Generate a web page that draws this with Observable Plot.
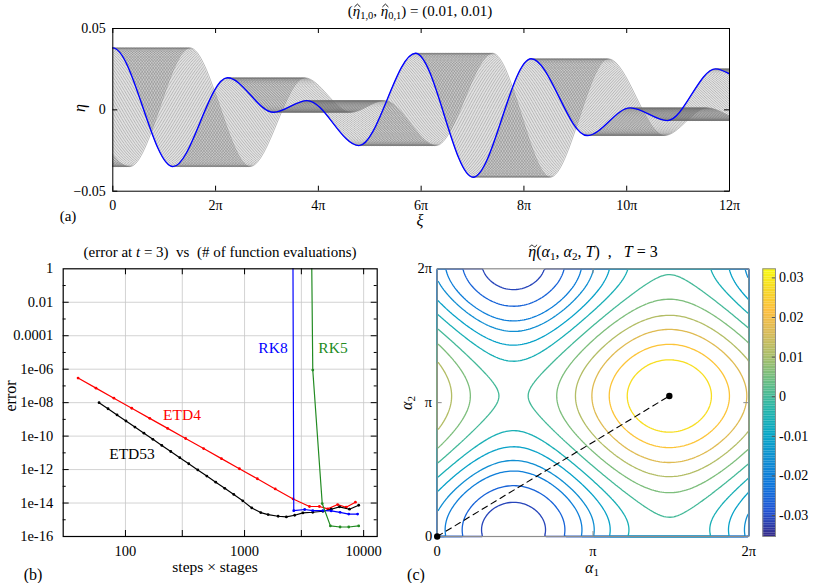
<!DOCTYPE html>
<html>
<head>
<meta charset="utf-8">
<script src="https://cdn.jsdelivr.net/npm/d3@7"></script>
<script src="https://cdn.jsdelivr.net/npm/@observablehq/plot@0.6"></script>
<style>
  body { margin: 0; background: #fff; }
  #root { position: relative; width: 830px; height: 583px; background: #fff; font-family: 'Liberation Serif', 'Times New Roman', serif; color: #000; overflow: hidden; }
  #root svg text { font-family: 'Liberation Serif', 'Times New Roman', serif !important; }
  .panel { position: absolute; }
  .lbl { position: absolute; transform: translate(-50%, -50%); white-space: nowrap; line-height: 1; }
  .rot { transform: translate(-50%, -50%) rotate(-90deg); }
  .sb { font-size: 0.7em; vertical-align: -0.3em; line-height: 0; }
  .acc { position: relative; display: inline-block; }
  .mk { position: absolute; left: 50%; top: 0.02em; transform: translateX(-40%); overflow: visible; }
</style>
</head>
<body>
<div id="root">
  <div id="pa" class="panel" style="left:0;top:0"></div>
  <div id="pb" class="panel" style="left:0;top:230px"></div>
  <div id="pc" class="panel" style="left:415px;top:230px"></div>
  <div id="pcb" class="panel" style="left:755px;top:230px"></div>

  <div class="lbl" style="left:420px;top:11px;font-size:15px">(<span class="acc"><i>η</i><svg class="mk" width="7" height="4"><path d="M0.5,3.5L3.5,0.6L6.5,3.5" fill="none" stroke="#000" stroke-width="0.9"/></svg></span><span class="sb">1,0</span>, <span class="acc"><i>η</i><svg class="mk" width="7" height="4"><path d="M0.5,3.5L3.5,0.6L6.5,3.5" fill="none" stroke="#000" stroke-width="0.9"/></svg></span><span class="sb">0,1</span>) = (0.01, 0.01)</div>
  <div class="lbl rot" style="left:80px;top:108px;font-size:16px"><i>η</i></div>
  <div class="lbl" style="left:420px;top:221px;font-size:16px"><i>ξ</i></div>
  <div class="lbl" style="left:68px;top:216px;font-size:15px">(a)</div>

  <div class="lbl" style="left:220px;top:252px;font-size:15px">(error at <i>t</i> = 3)&nbsp; vs &nbsp;(# of function evaluations)</div>
  <div class="lbl" style="left:273px;top:348px;font-size:15.5px;color:#0000ff">RK8</div>
  <div class="lbl" style="left:333px;top:348px;font-size:15.5px;color:#228b22">RK5</div>
  <div class="lbl" style="left:182px;top:415px;font-size:15.5px;color:#ff0000">ETD4</div>
  <div class="lbl" style="left:132px;top:454px;font-size:15.5px;color:#000">ETD53</div>
  <div class="lbl rot" style="left:11px;top:396px;font-size:16px">error</div>
  <div class="lbl" style="left:215px;top:567px;font-size:15.5px">steps × stages</div>
  <div class="lbl" style="left:33px;top:575px;font-size:16px">(b)</div>

  <div class="lbl" style="left:593px;top:252px;font-size:16px"><span class="acc"><i>η</i><svg class="mk" width="8" height="4"><path d="M0.5,3.2C1.8,0.6 3.2,0.8 4.2,2 S6.6,3.4 7.6,0.8" fill="none" stroke="#000" stroke-width="0.9"/></svg></span>(<i>α</i><span class="sb">1</span>, <i>α</i><span class="sb">2</span>, <i>T</i>) &nbsp;, &nbsp; <i>T</i> = 3</div>
  <div class="lbl" style="left:592px;top:568px;font-size:16px"><i>α</i><span class="sb">1</span></div>
  <div class="lbl rot" style="left:407px;top:403px;font-size:16px"><i>α</i><span class="sb">2</span></div>
  <div class="lbl" style="left:416px;top:575px;font-size:16px">(c)</div>
</div>
<script>
const PI = Math.PI;
const SERIF = "'Liberation Serif', 'Times New Roman', serif";

// ---------- Panel (a): wave profile extrema (xi in units of pi) ----------
const blueXiPi = [-2.23, -1.17, 0, 1.17, 2.23, 3.13, 3.78, 4.79, 5.89, 7.01, 8.14, 9.23, 10.07, 10.79, 11.73, 12.0];
const blueEta  = [0.0197, -0.0349, 0.0381, -0.0349, 0.0197, -0.0015, 0.0057, -0.0220, 0.0348, -0.0414, 0.0314, -0.0158, 0.0012, -0.0066, 0.0252, 0.0221];
const snapshotCount = 50;     // number of gray snapshots
const maxShiftPi = 1.5;       // total drift of the snapshots (units of pi)
const xTicksAPi = [0, 2, 4, 6, 8, 10, 12];
const xTickLabelsA = ["0", "2π", "4π", "6π", "8π", "10π", "12π"];
const yTicksA = [-0.05, 0, 0.05];
const yTickLabelsA = ["−0.05", "0", "0.05"];

// ---------- Panel (b): error vs steps x stages ----------
const etd4Steps = [40, 56.6, 80, 113, 160, 226, 320, 453, 640, 905, 1280, 1810, 2560, 3510, 4250, 5000, 6050, 7130, 8530];
const etd4Err   = [2.95e-7, 7.38e-8, 1.85e-8, 4.63e-9, 1.15e-9, 2.9e-10, 7.2e-11, 1.8e-11, 4.5e-12, 1.12e-12, 2.82e-13, 7.0e-14, 1.76e-14, 6.2e-15, 6.2e-15, 4.5e-15, 8.1e-15, 5.6e-15, 1.12e-14];
const etd53Steps = [60, 71.4, 85, 101, 120, 143, 170, 202, 240, 286, 340, 405, 482, 573, 682, 812, 966, 1150, 1368, 1577, 1915, 2245, 2635, 3090, 3740, 4550, 5340, 6270, 7600, 9090];
const etd53Err   = [1e-8, 4.31e-9, 1.85e-9, 8.0e-10, 3.47e-10, 1.49e-10, 6.43e-11, 2.78e-11, 1.2e-11, 5.15e-12, 2.23e-12, 9.5e-13, 4.08e-13, 1.77e-13, 7.55e-14, 3.27e-14, 1.35e-14, 5.1e-15, 2.7e-15, 2.04e-15, 1.62e-15, 1.48e-15, 1.86e-15, 2.57e-15, 2.82e-15, 3.24e-15, 4.27e-15, 5.9e-15, 4.27e-15, 7.4e-15];
const rk8Steps = [2530, 2590, 3200, 3740, 4550, 5340, 6340, 7500, 8900];
const rk8Err   = [1e8, 3.5e-15, 4.1e-15, 3.55e-15, 3.55e-15, 3.4e-15, 2.8e-15, 2.2e-15, 2.2e-15];
const rk5Steps = [3600, 3740, 4490, 5260, 6340, 7500, 9090];
const rk5Err   = [1e6, 8.9e-7, 9.3e-15, 4.3e-16, 3.7e-16, 3.7e-16, 4.3e-16];
const xTicksB = [30, 100, 300, 1000, 3000, 10000];
const xTickLabelsB = ["30", "100", "300", "1000", "3000", "10000"];
const yTicksB = [1, 1e-2, 1e-4, 1e-6, 1e-8, 1e-10, 1e-12, 1e-14, 1e-16];
const yTickLabelsB = ["1", "0.01", "0.0001", "1e-06", "1e-08", "1e-10", "1e-12", "1e-14", "1e-16"];
const yMinorB = [1e-1, 1e-3, 1e-5, 1e-7, 1e-9, 1e-11, 1e-13, 1e-15];

// ---------- Panel (c): Fourier modes of the surface ----------
const modeM = [1, 0, 2, 0];
const modeN = [0, 1, 0, 2];
const modeAmp = [0.01695, 0.01695, -0.0004, -0.0004];
const modePhasePi = [1.49, 1.05, 2.98, 2.10];
const contourLevels = [-0.0310, -0.0258, -0.0202, -0.0160, -0.0108, -0.0057, 0.0000, 0.0057, 0.0115, 0.0171, 0.0228, 0.0278];
const pathPointsPi = [[0, 0], [1.49, 1.05]];
const cTicksPi = [0, 1, 2];
const cTickLabels = ["0", "π", "2π"];
const colorDomain = [-0.0353, 0.0323];
const parulaPos = [0, 0.0952, 0.1905, 0.2857, 0.381, 0.476, 0.571, 0.667, 0.762, 0.841, 0.921, 1];
const parulaColors = ["#352a87", "#2053d4", "#0d75dc", "#108ed2", "#06a7c6", "#25b5a9", "#65be86", "#a5be6b", "#d9ba56", "#fdbe3d", "#f7d826", "#f9fb0e"];
const cbTicks = [-0.03, -0.02, -0.01, 0, 0.01, 0.02, 0.03];
const cbTickLabels = ["-0.03", "-0.02", "-0.01", "0", "0.01", "0.02", "0.03"];

const baseStyle = {fontFamily: SERIF, fontSize: "14px", background: "transparent", overflow: "visible", color: "black"};
const lab = (ticks, labels) => d => labels[ticks.indexOf(d)];

// ================= Panel (a) =================
{
  const W = 830, H = 230, mL = 112.3, mR = 101, mT = 28, mB = 39.3;
  const fw = W - mL - mR, fh = H - mT - mB;
  const grayRows = [];
  for (let j = 0; j < snapshotCount; j++) {
    const s = maxShiftPi * j / (snapshotCount - 1);
    blueXiPi.forEach((x, i) => grayRows.push({k: j, xi: (x + s) * PI, eta: blueEta[i]}));
  }
  const blueRows = blueXiPi.map((x, i) => ({xi: x * PI, eta: blueEta[i]}));
  const xT = xTicksAPi.map(v => v * PI);
  const ty = 0.1 * 5 / fh, tx = 12 * PI * 5 / fw;
  const el = Plot.plot({
    width: W, height: H, marginLeft: mL, marginRight: mR, marginTop: mT, marginBottom: mB,
    style: baseStyle,
    x: {domain: [0, 12 * PI]}, y: {domain: [-0.05, 0.05]},
    marks: [
      Plot.line(grayRows, {x: "xi", y: "eta", z: "k", stroke: "#707070", strokeWidth: 0.5, curve: "monotone-x", clip: true}),
      Plot.line(blueRows, {x: "xi", y: "eta", stroke: "#0000ff", strokeWidth: 1.4, curve: "monotone-x", clip: true}),
      Plot.frame({stroke: "black", strokeWidth: 1}),
      Plot.ruleX(xT, {x: d => d, y1: -0.05, y2: -0.05 + ty, stroke: "black"}),
      Plot.ruleX(xT, {x: d => d, y1: 0.05, y2: 0.05 - ty, stroke: "black"}),
      Plot.ruleY(yTicksA, {y: d => d, x1: 0, x2: tx, stroke: "black"}),
      Plot.ruleY(yTicksA, {y: d => d, x1: 12 * PI, x2: 12 * PI - tx, stroke: "black"}),
      Plot.axisX(xT, {anchor: "bottom", tickSize: 0, tickPadding: 8.5, tickFormat: lab(xT, xTickLabelsA), fontSize: 14, fontFamily: SERIF, label: null}),
      Plot.axisY(yTicksA, {anchor: "left", tickSize: 0, tickPadding: 7, tickFormat: lab(yTicksA, yTickLabelsA), fontSize: 14, fontFamily: SERIF, label: null})
    ]
  });
  document.getElementById("pa").appendChild(el);
}

// ================= Panel (b) =================
{
  const W = 415, H = 353, mL = 62.7, mR = 38.3, mT = 38.3, mB = 47;
  const rows = (xs, ys) => xs.map((x, i) => ({x, e: ys[i]}));
  const series = [
    {d: rows(etd4Steps, etd4Err), c: "#ff0000"},
    {d: rows(etd53Steps, etd53Err), c: "#000000"},
    {d: rows(rk8Steps, rk8Err), c: "#0000ff"},
    {d: rows(rk5Steps, rk5Err), c: "#228b22"}
  ];
  const ky = Math.pow(10, 6 / 16.75), kx = Math.pow(10, 6 / 119.5);
  const xIn = xTicksB.slice(1), yIn = yTicksB.slice(1, -1);
  const marks = [
    Plot.ruleX(xIn, {x: d => d, stroke: "#c8c8c8", strokeWidth: 0.8}),
    Plot.ruleY(yIn, {y: d => d, stroke: "#c8c8c8", strokeWidth: 0.8})
  ];
  for (const s of series) {
    marks.push(Plot.line(s.d, {x: "x", y: "e", stroke: s.c, strokeWidth: 1.2, clip: true}));
    marks.push(Plot.dot(s.d, {x: "x", y: "e", r: 1.4, fill: s.c, stroke: "none", clip: true}));
  }
  marks.push(
    Plot.frame({stroke: "black", strokeWidth: 1.2}),
    Plot.ruleX(xIn, {x: d => d, y1: 1e-16, y2: 1e-16 * ky, stroke: "black"}),
    Plot.ruleX(xIn, {x: d => d, y1: 1, y2: 1 / ky, stroke: "black"}),
    Plot.ruleY(yIn, {y: d => d, x1: 30, x2: 30 * kx, stroke: "black"}),
    Plot.ruleY(yIn, {y: d => d, x1: 13000, x2: 13000 / kx, stroke: "black"}),
    Plot.ruleY(yMinorB, {y: d => d, x1: 30, x2: 30 * Math.sqrt(kx), stroke: "black"}),
    Plot.ruleY(yMinorB, {y: d => d, x1: 13000, x2: 13000 / Math.sqrt(kx), stroke: "black"}),
    Plot.axisX(xTicksB, {anchor: "bottom", tickSize: 0, tickPadding: 9.5, tickFormat: lab(xTicksB, xTickLabelsB), fontSize: 14.5, fontFamily: SERIF, label: null}),
    Plot.axisY(yTicksB, {anchor: "left", tickSize: 0, tickPadding: 10, tickFormat: lab(yTicksB, yTickLabelsB), fontSize: 14.5, fontFamily: SERIF, label: null})
  );
  const el = Plot.plot({
    width: W, height: H, marginLeft: mL, marginRight: mR, marginTop: mT, marginBottom: mB,
    style: baseStyle,
    x: {type: "log", domain: [30, 13000]}, y: {type: "log", domain: [1e-16, 1]},
    marks
  });
  document.getElementById("pb").appendChild(el);
}

// ================= Panel (c) + colorbar =================
const colorOpts = {
  type: "linear",
  domain: parulaPos.map(t => colorDomain[0] + t * (colorDomain[1] - colorDomain[0])),
  range: parulaColors,
  interpolate: "rgb"
};
{
  const W = 340, H = 353, mL = 21.7, mR = 6.7, mT = 38.3, mB = 47;
  const fw = W - mL - mR, fh = H - mT - mB;
  const field = (a1, a2) => {
    let s = 0;
    for (let k = 0; k < modeAmp.length; k++) s += modeAmp[k] * Math.cos(modeM[k] * a1 + modeN[k] * a2 - modePhasePi[k] * PI);
    return s;
  };
  const cT = cTicksPi.map(v => v * PI);
  const tx = 2 * PI * 5 / fw, ty = 2 * PI * 5 / fh;
  const gray = "#8c8c8c";
  const el = Plot.plot({
    width: W, height: H, marginLeft: mL, marginRight: mR, marginTop: mT, marginBottom: mB,
    style: baseStyle,
    x: {domain: [0, 2 * PI]}, y: {domain: [0, 2 * PI]},
    color: colorOpts,
    marks: [
      Plot.contour(null, {x1: 0, y1: 0, x2: 2 * PI, y2: 2 * PI, value: field, thresholds: contourLevels, stroke: "value", fill: "none", strokeWidth: 1.3}),
      Plot.frame({stroke: gray, strokeWidth: 1.2}),
      Plot.ruleX([PI], {x: d => d, y1: 0, y2: ty, stroke: gray}),
      Plot.ruleX([PI], {x: d => d, y1: 2 * PI, y2: 2 * PI - ty, stroke: gray}),
      Plot.ruleY([PI], {y: d => d, x1: 0, x2: tx, stroke: gray}),
      Plot.ruleY([PI], {y: d => d, x1: 2 * PI, x2: 2 * PI - tx, stroke: gray}),
      Plot.line(pathPointsPi, {x: d => d[0] * PI, y: d => d[1] * PI, stroke: "black", strokeWidth: 1.1, strokeDasharray: "6,4.5"}),
      Plot.dot(pathPointsPi, {x: d => d[0] * PI, y: d => d[1] * PI, r: 3.2, fill: "black", stroke: "none"}),
      Plot.axisX(cT, {anchor: "bottom", tickSize: 0, tickPadding: 9, tickFormat: lab(cT, cTickLabels), fontSize: 14.5, fontFamily: SERIF, label: null}),
      Plot.axisY(cT, {anchor: "left", tickSize: 0, tickPadding: 5, tickFormat: lab(cT, cTickLabels), fontSize: 14.5, fontFamily: SERIF, label: null})
    ]
  });
  document.getElementById("pc").appendChild(el);
}
{
  const W = 75, H = 353, mL = 7.3, mR = 55, mT = 38.3, mB = 47;
  const n = 160, d0 = colorDomain[0], dd = (colorDomain[1] - colorDomain[0]) / n;
  const bins = d3.range(n).map(i => ({y1: d0 + i * dd, y2: d0 + (i + 1.05) * dd, v: d0 + (i + 0.5) * dd}));
  const el = Plot.plot({
    width: W, height: H, marginLeft: mL, marginRight: mR, marginTop: mT, marginBottom: mB,
    style: baseStyle,
    x: {domain: [0, 1], axis: null}, y: {domain: colorDomain},
    color: colorOpts,
    marks: [
      Plot.rect(bins, {x1: 0, x2: 1, y1: "y1", y2: "y2", fill: "v", clip: true}),
      Plot.frame({stroke: "#8c8c8c", strokeWidth: 1}),
      Plot.ruleY(cbTicks, {y: d => d, x1: 1, x2: 0.75, stroke: "#555"}),
      Plot.axisY(cbTicks, {anchor: "right", tickSize: 0, tickPadding: 3.5, tickFormat: lab(cbTicks, cbTickLabels), fontSize: 14, fontFamily: SERIF, label: null})
    ]
  });
  document.getElementById("pcb").appendChild(el);
}
</script>
</body>
</html>
